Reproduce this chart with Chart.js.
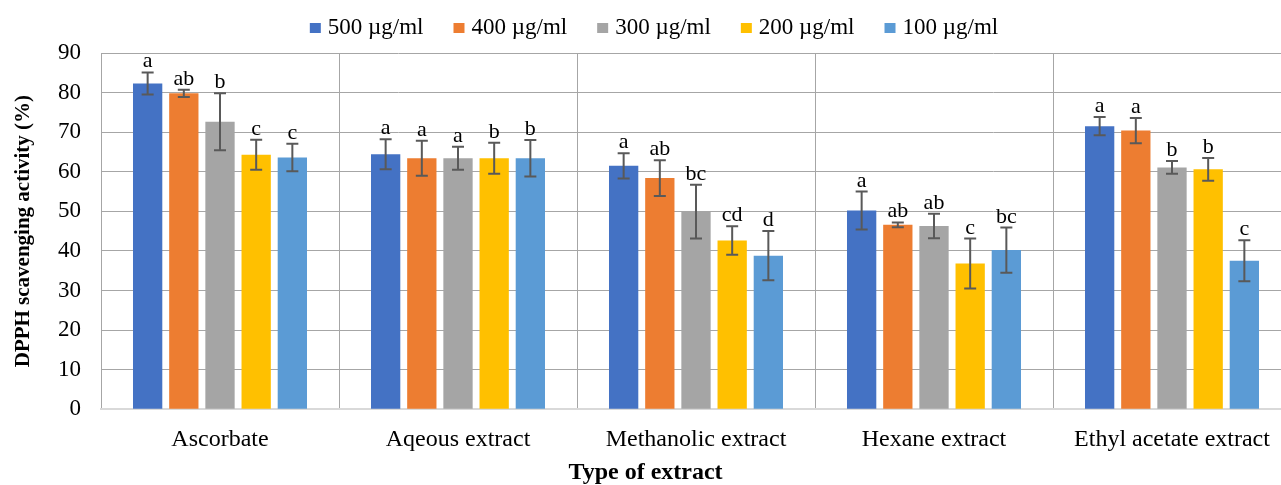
<!DOCTYPE html>
<html><head><meta charset="utf-8">
<script src="https://cdn.jsdelivr.net/npm/chart.js@4"></script>
<style>html,body{margin:0;padding:0;background:#fff;overflow:hidden}#wrap{width:1281px;height:485px;overflow:hidden}</style>
</head><body><div id="wrap"><canvas id="c" width="1296" height="485" style="width:1296px;height:485px"></canvas></div>
<script>
const categories = ["Ascorbate", "Aqeous extract", "Methanolic extract", "Hexane extract", "Ethyl acetate extract"];
const seriesNames = ["500 µg/ml", "400 µg/ml", "300 µg/ml", "200 µg/ml", "100 µg/ml"];
const colors = ["#4472C4", "#ED7D31", "#A5A5A5", "#FFC000", "#5B9BD5"];
const s500 = [82.3, 64.4, 61.5, 50.2, 71.5];
const s400 = [79.8, 63.4, 58.4, 46.6, 70.4];
const s300 = [72.6, 63.4, 49.9, 46.3, 61.1];
const s200 = [64.3, 63.4, 42.6, 36.8, 60.6];
const s100 = [63.6, 63.4, 38.8, 40.2, 37.5];
const e500 = [2.8, 3.8, 3.2, 4.8, 2.3];
const e400 = [0.9, 4.4, 4.5, 0.6, 3.2];
const e300 = [7.2, 2.9, 6.8, 3.1, 1.6];
const e200 = [3.8, 3.9, 3.6, 6.3, 2.9];
const e100 = [3.5, 4.6, 6.2, 5.7, 5.2];
const l500 = ["a", "a", "a", "a", "a"];
const l400 = ["ab", "a", "ab", "ab", "a"];
const l300 = ["b", "a", "bc", "ab", "b"];
const l200 = ["c", "b", "cd", "c", "b"];
const l100 = ["c", "b", "d", "bc", "c"];
const yTicks = [0, 10, 20, 30, 40, 50, 60, 70, 80, 90];

const values = [s500, s400, s300, s200, s100];
const errors = [e500, e400, e300, e200, e100];
const letters = [l500, l400, l300, l200, l100];
const FONT = "'Liberation Serif', 'Times New Roman', serif";

const errPlugin = {
  id: 'errLetters',
  afterDatasetsDraw(chart) {
    const ctx = chart.ctx, y = chart.scales.y;
    ctx.save();
    chart.data.datasets.forEach((ds, di) => {
      const meta = chart.getDatasetMeta(di);
      meta.data.forEach((el, i) => {
        const v = ds.data[i], e = errors[di][i];
        const yt = y.getPixelForValue(v + e), yb = y.getPixelForValue(v - e);
        ctx.strokeStyle = '#595959'; ctx.lineWidth = 2;
        ctx.beginPath();
        ctx.moveTo(el.x, yt); ctx.lineTo(el.x, yb);
        ctx.moveTo(el.x - 6, yt); ctx.lineTo(el.x + 6, yt);
        ctx.moveTo(el.x - 6, yb); ctx.lineTo(el.x + 6, yb);
        ctx.stroke();
        ctx.fillStyle = '#000';
        ctx.font = "22px " + FONT;
        ctx.textAlign = 'center'; ctx.textBaseline = 'alphabetic';
        ctx.fillText(letters[di][i], el.x, yt - 5);
      });
    });
    ctx.restore();
  }
};

const legendPlugin = {
  id: 'customLegend',
  afterDraw(chart) {
    const ctx = chart.ctx;
    ctx.save();
    ctx.font = "23px " + FONT;
    const box = 11, gapText = 7, gapItem = 30;
    const widths = seriesNames.map(n => box + gapText + ctx.measureText(n).width);
    const total = widths.reduce((a, b) => a + b, 0) + gapItem * (widths.length - 1);
    let x = 654 - total / 2;
    seriesNames.forEach((n, i) => {
      ctx.fillStyle = colors[i];
      ctx.fillRect(x, 23, box, 10);
      ctx.fillStyle = '#000';
      ctx.textAlign = 'left'; ctx.textBaseline = 'alphabetic';
      ctx.fillText(n, x + box + gapText, 34);
      x += widths[i] + gapItem;
    });
    ctx.restore();
  }
};

new Chart(document.getElementById('c'), {
  type: 'bar',
  data: {
    labels: categories,
    datasets: seriesNames.map((n, i) => ({
      label: n, data: values[i], backgroundColor: colors[i],
      borderWidth: 0, categoryPercentage: 0.76, barPercentage: 0.81
    }))
  },
  options: {
    responsive: false, animation: false,
    layout: { padding: { left: 0, right: 5, top: 53, bottom: 0 } },
    plugins: {
      legend: { display: false },
      title: {
        display: true, position: 'bottom', text: 'Type of extract',
        font: { family: FONT, size: 24, weight: 'bold' }, color: '#000', padding: { top: 7, bottom: -2 }
      },
      tooltip: { enabled: false }
    },
    scales: {
      x: {
        afterFit(s) { s.height = 42; },
        grid: { color: '#a6a6a6', lineWidth: 1, offset: true, drawTicks: false },
        border: { color: '#d9d9d9', width: 2 },
        ticks: { font: { family: FONT, size: 24 }, color: '#000', padding: 16, maxRotation: 0 }
      },
      y: {
        min: 0, max: 90,
        afterBuildTicks(s) { s.ticks = yTicks.map(v => ({ value: v })); },
        afterFit(s) { s.width = 101; },
        grid: { color: c => c.tick && c.tick.value === 0 ? '#d9d9d9' : '#a6a6a6', lineWidth: 1, drawTicks: false },
        border: { display: false },
        ticks: { font: { family: FONT, size: 23 }, color: '#000', padding: 20 },
        title: { display: true, text: 'DPPH scavenging activity (%)', font: { family: FONT, size: 21, weight: 'bold' }, color: '#000', padding: { top: 11, bottom: 0 } }
      }
    }
  },
  plugins: [errPlugin, legendPlugin]
});
</script></body></html>
